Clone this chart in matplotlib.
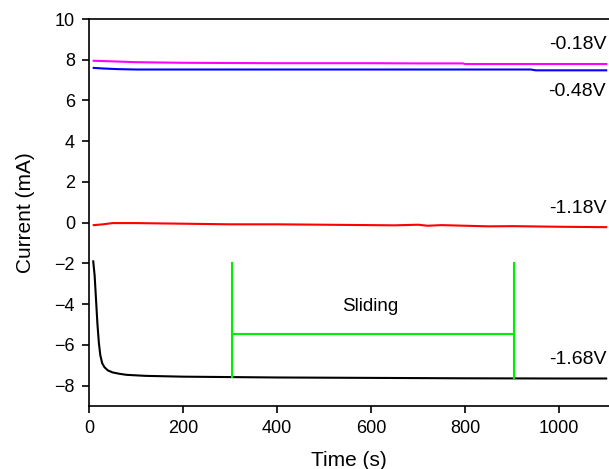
import matplotlib.pyplot as plt

plt.rcParams['font.family'] = ['Liberation Sans', 'DejaVu Sans']

# current traces at each applied potential
t_018 = [10, 50, 100, 200, 300, 400, 500, 600, 700, 795, 800, 900, 1000, 1100]
i_018 = [7.95, 7.92, 7.88, 7.85, 7.84, 7.83, 7.83, 7.83, 7.82, 7.82, 7.79, 7.79, 7.79, 7.79]

t_048 = [10, 30, 60, 100, 300, 500, 700, 940, 950, 1000, 1100]
i_048 = [7.6, 7.57, 7.54, 7.52, 7.52, 7.52, 7.52, 7.52, 7.48, 7.48, 7.48]

t_118 = [10, 30, 50, 100, 200, 300, 400, 500, 600, 650, 700, 720, 750, 800, 850, 900, 1000, 1100]
i_118 = [-0.12, -0.08, -0.02, -0.02, -0.05, -0.08, -0.08, -0.1, -0.12, -0.13, -0.1,
         -0.15, -0.12, -0.15, -0.18, -0.17, -0.2, -0.22]

t_168 = [9, 12, 15, 18, 21, 24, 28, 33, 40, 50, 65, 80, 120, 200, 400, 600, 800, 1000, 1100]
i_168 = [-1.9, -2.6, -3.8, -5.0, -5.9, -6.5, -6.9, -7.1, -7.25, -7.35, -7.42, -7.47,
         -7.52, -7.56, -7.6, -7.62, -7.64, -7.65, -7.65]

labels = ['-0.18V', '-0.48V', '-1.18V', '-1.68V']
label_y = [8.75, 6.45, 0.7, -6.7]

slide_start = 305
slide_end = 903

fig = plt.figure(figsize=(6.09, 4.69), dpi=100)
ax = fig.add_axes([89 / 609, 63 / 469, 520 / 609, 387 / 469])

ax.plot(t_018, i_018, color='#ff00ff', lw=1.5)
ax.plot(t_048, i_048, color='#0000ff', lw=1.5)
ax.plot(t_118, i_118, color='#ff0000', lw=1.5)
ax.plot(t_168, i_168, color='black', lw=1.5)

# sliding window marker
ax.plot([slide_start, slide_start], [-2, -7.58], color='#00ee00', lw=1.5)
ax.plot([slide_end, slide_end], [-2, -7.62], color='#00ee00', lw=1.5)
ax.plot([slide_start, slide_end], [-5.45, -5.45], color='#00ee00', lw=1.5)
ax.text((slide_start + slide_end) / 2 - 5, -4.1, 'Sliding', ha='center', va='center', fontsize=13.5)

for lab, y in zip(labels, label_y):
    ax.text(1100, y, lab, ha='right', va='center', fontsize=14)

ax.set_xlim(0, 1106)
ax.set_ylim(-9, 10)
ax.set_xticks([0, 200, 400, 600, 800, 1000])
ax.set_yticks(range(-8, 11, 2))
ax.spines['right'].set_visible(False)
for s in ['left', 'bottom', 'top']:
    ax.spines[s].set_linewidth(1.2)
ax.tick_params(direction='out', length=5, width=1.2, labelsize=13, pad=5)
ax.set_xlabel('Time (s)', fontsize=15, labelpad=10)
ax.set_ylabel('Current (mA)', fontsize=15, labelpad=14)

fig.savefig('out.png', dpi=100)
